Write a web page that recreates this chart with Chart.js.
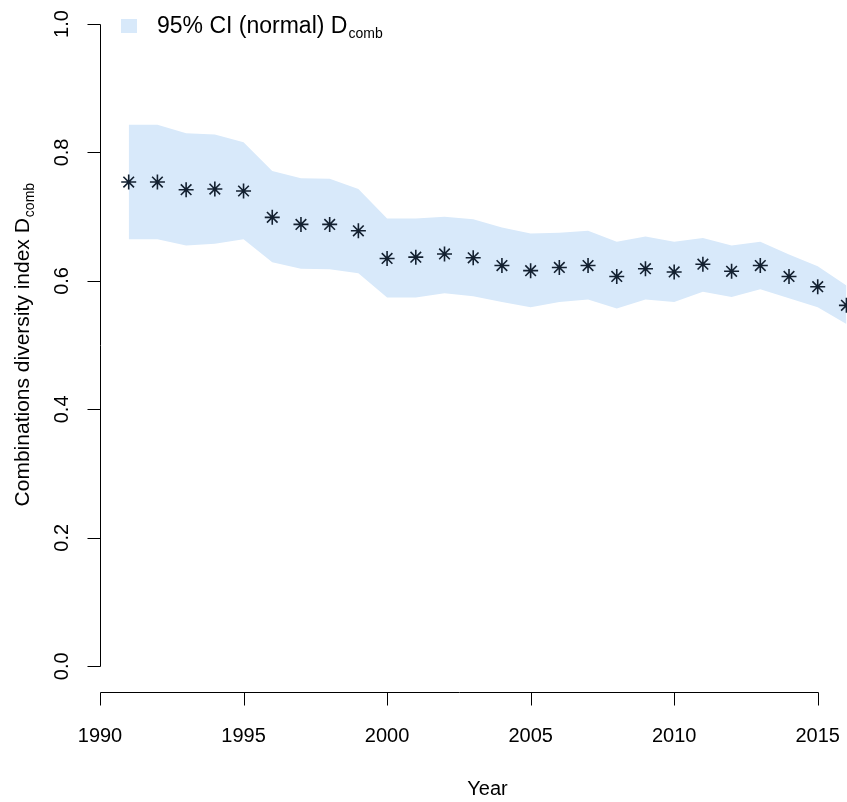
<!DOCTYPE html>
<html>
<head>
<meta charset="utf-8">
<title>Combinations diversity index</title>
<script src="https://cdn.jsdelivr.net/npm/chart.js@4/dist/chart.umd.min.js"></script>
<style>
  html, body { margin: 0; padding: 0; background: #ffffff; overflow: hidden; }
  #wrap { width: 847px; height: 802px; }
</style>
</head>
<body>
<div id="wrap"><canvas id="chart" width="847" height="802"></canvas></div>
<script>
// Yearly combinations diversity index with its 95% normal confidence interval
const years = [1991, 1992, 1993, 1994, 1995, 1996, 1997, 1998, 1999, 2000,
               2001, 2002, 2003, 2004, 2005, 2006, 2007, 2008, 2009, 2010,
               2011, 2012, 2013, 2014, 2015, 2016];
const dcomb = [0.754, 0.754, 0.742, 0.743, 0.740, 0.699, 0.688, 0.688, 0.678, 0.635,
               0.637, 0.642, 0.636, 0.624, 0.616, 0.621, 0.624, 0.607, 0.619, 0.614,
               0.626, 0.615, 0.624, 0.607, 0.591, 0.562];
const ciUpper = [0.843, 0.843, 0.830, 0.828, 0.816, 0.771, 0.760, 0.759, 0.743, 0.697,
                 0.697, 0.700, 0.696, 0.683, 0.674, 0.675, 0.678, 0.661, 0.669, 0.661,
                 0.667, 0.655, 0.661, 0.641, 0.623, 0.593];
const ciLower = [0.665, 0.665, 0.655, 0.658, 0.665, 0.629, 0.619, 0.618, 0.612, 0.574,
                 0.574, 0.581, 0.576, 0.567, 0.559, 0.567, 0.571, 0.557, 0.571, 0.567,
                 0.583, 0.575, 0.587, 0.573, 0.559, 0.533];
const xTicks = [1990, 1995, 2000, 2005, 2010, 2015];
const yTicks = [0.0, 0.2, 0.4, 0.6, 0.8, 1.0];
const yTickLabels = ['0.0', '0.2', '0.4', '0.6', '0.8', '1.0'];
const legendLabel = '95% CI (normal) D';
const legendSub = 'comb';
const yTitle = 'Combinations diversity index D';
const yTitleSub = 'comb';
const xTitle = 'Year';

const FONT = '"Liberation Sans", Arial, Helvetica, sans-serif';
const BAND = 'rgb(216, 233, 250)';
const INK = '#000000';
const STAR = '#132030';

const pts = arr => years.map((yr, i) => ({ x: yr, y: arr[i] }));

// Base-graphics style axes, titles and legend drawn from the chart's scales
const baseAxes = {
  id: 'baseAxes',
  afterDraw(chart) {
    const { ctx, scales: { x, y } } = chart;
    const axisY = chart.chartArea.bottom;
    const axisX = chart.chartArea.left;
    ctx.save();
    ctx.strokeStyle = INK;
    ctx.fillStyle = INK;
    ctx.lineWidth = 1;

    // y axis line and ticks
    const y0 = y.getPixelForValue(yTicks[0]);
    const y1 = y.getPixelForValue(yTicks[yTicks.length - 1]);
    ctx.beginPath();
    ctx.moveTo(axisX + 0.5, Math.round(y0) + 0.5);
    ctx.lineTo(axisX + 0.5, Math.round(y1) + 0.5);
    yTicks.forEach(v => {
      const p = Math.round(y.getPixelForValue(v)) + 0.5;
      ctx.moveTo(axisX + 0.5, p);
      ctx.lineTo(axisX - 12.5, p);
    });
    ctx.stroke();

    // y tick labels, rotated
    ctx.font = '20px ' + FONT;
    ctx.textAlign = 'center';
    ctx.textBaseline = 'alphabetic';
    yTicks.forEach((v, i) => {
      const p = y.getPixelForValue(v);
      ctx.save();
      ctx.translate(68, p);
      ctx.rotate(-Math.PI / 2);
      ctx.fillText(yTickLabels[i], 0, 0);
      ctx.restore();
    });

    // x axis line and ticks
    const xa = x.getPixelForValue(xTicks[0]);
    const xb = x.getPixelForValue(xTicks[xTicks.length - 1]);
    ctx.beginPath();
    ctx.moveTo(Math.round(xa) + 0.5, axisY + 0.5);
    ctx.lineTo(Math.round(xb) + 0.5, axisY + 0.5);
    xTicks.forEach(v => {
      const p = Math.round(x.getPixelForValue(v)) + 0.5;
      ctx.moveTo(p, axisY + 0.5);
      ctx.lineTo(p, axisY + 13.5);
    });
    ctx.stroke();

    // x tick labels
    xTicks.forEach(v => {
      ctx.fillText(String(v), x.getPixelForValue(v), 742);
    });

    // x title, centred on the plotting region
    ctx.fillText(xTitle, x.getPixelForValue(2003.5), 795);

    // y title with subscript
    ctx.save();
    ctx.translate(29, y.getPixelForValue(0.5));
    ctx.rotate(-Math.PI / 2);
    ctx.textAlign = 'left';
    ctx.font = '21px ' + FONT;
    const w1 = ctx.measureText(yTitle).width;
    ctx.font = '14px ' + FONT;
    const w2 = ctx.measureText(yTitleSub).width;
    const start = -(w1 + w2) / 2;
    ctx.font = '21px ' + FONT;
    ctx.fillText(yTitle, start, 0);
    ctx.font = '14px ' + FONT;
    ctx.fillText(yTitleSub, start + w1 + 1, 5);
    ctx.restore();

    // legend
    ctx.fillStyle = BAND;
    ctx.fillRect(121, 19, 16, 14);
    ctx.fillStyle = INK;
    ctx.textAlign = 'left';
    ctx.font = '23px ' + FONT;
    ctx.fillText(legendLabel, 157, 33);
    const lw = ctx.measureText(legendLabel).width;
    ctx.font = '14px ' + FONT;
    ctx.fillText(legendSub, 157 + lw + 1, 38);

    ctx.restore();
  }
};

new Chart(document.getElementById('chart'), {
  type: 'line',
  data: {
    datasets: [
      {
        label: 'D comb',
        data: pts(dcomb),
        order: 0,
        showLine: false,
        pointStyle: 'star',
        pointRadius: 7.5,
        pointHoverRadius: 7.5,
        pointBorderWidth: 1.6,
        borderColor: STAR,
        backgroundColor: STAR,
        fill: false
      },
      {
        label: 'upper',
        data: pts(ciUpper),
        order: 1,
        borderWidth: 0,
        borderColor: 'rgba(0,0,0,0)',
        backgroundColor: BAND,
        pointRadius: 0,
        fill: '+1',
        tension: 0
      },
      {
        label: 'lower',
        data: pts(ciLower),
        order: 2,
        borderWidth: 0,
        borderColor: 'rgba(0,0,0,0)',
        backgroundColor: BAND,
        pointRadius: 0,
        fill: false,
        tension: 0
      }
    ]
  },
  options: {
    responsive: false,
    animation: false,
    devicePixelRatio: 1,
    events: [],
    layout: { autoPadding: false, padding: { left: 100, top: 24, right: 0, bottom: 110 } },
    plugins: {
      legend: { display: false },
      tooltip: { enabled: false }
    },
    scales: {
      x: { type: 'linear', min: 1990, max: 2016.02, display: false },
      y: { type: 'linear', min: -0.04, max: 1.0, display: false }
    }
  },
  plugins: [baseAxes]
});
</script>
</body>
</html>
